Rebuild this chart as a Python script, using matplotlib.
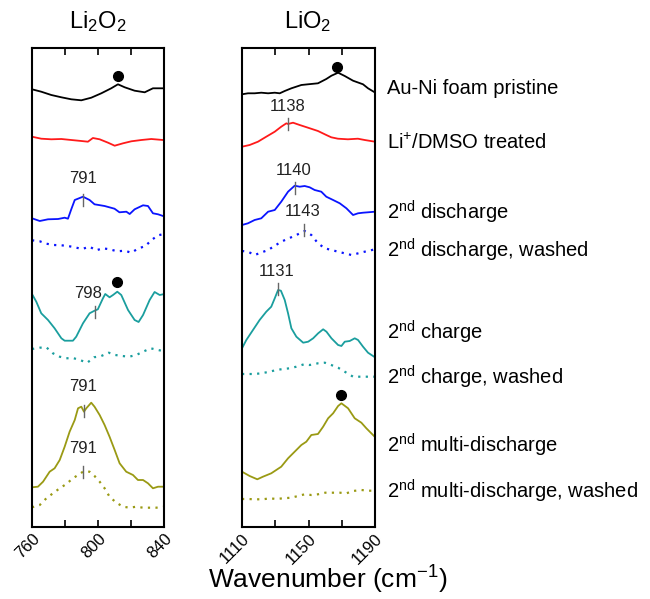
import matplotlib
matplotlib.use("Agg")
import matplotlib.pyplot as plt

plt.rcParams["font.family"] = ["Liberation Sans", "DejaVu Sans"]
plt.rcParams["mathtext.default"] = "regular"

# ── Li2O2 region (760-840 cm-1), offset intensities ─────────────────────
l_black_x = [760, 765.6, 771.7, 777.8, 783.8, 789.9, 795.9, 802, 808, 812.1, 816.2, 822.2, 828.3, 833.3, 839.4]
l_black_y = [437.7, 435.3, 432, 429.7, 427.7, 426.7, 429.3, 433.7, 438.7, 442.7, 439.7, 436.3, 434.7, 438.7, 438.7]

l_red_x = [760, 765.6, 771.7, 777.8, 783.8, 789.9, 793.9, 796.9, 801, 806.1, 810.1, 815.2, 820.2, 826.3, 832.3, 839.4]
l_red_y = [390.3, 388.3, 387.7, 388, 387, 386, 385.3, 389, 387.7, 384.3, 381.3, 383.7, 385.7, 387, 388, 387]

l_blue_x = [760, 764.7, 769.7, 775.8, 779.8, 781.8, 783.8, 785.9, 790.9, 794.9, 797.9, 804, 810, 813,
            817.2, 819.2, 822.2, 827.3, 830.3, 833.3, 836.4, 839.4]
l_blue_y = [308.7, 306, 307.7, 308, 309.3, 308.3, 317.7, 327, 330.3, 327, 322.7, 321, 318.3, 314.7,
            315.3, 313, 317.7, 321.7, 321, 313.7, 312.7, 311]

l_bluew_x = [760, 764.7, 768.7, 773.3, 777.8, 781.8, 785.9, 790.3, 794.9, 798.9, 803, 807, 811.7, 816.2,
             820.2, 824.2, 828.7, 832.7, 836.4, 840]
l_bluew_y = [286.7, 285.7, 283.3, 282, 281.7, 281, 279.7, 278, 280.3, 276.7, 278.7, 277.7, 275.7, 276.3,
             274.3, 278.3, 281, 287.3, 291.7, 293]

l_teal_x = [760, 762.6, 765.6, 769.7, 773.7, 777.8, 779.8, 784.8, 786.8, 790.9, 794.9, 797.9, 799.9, 803,
            804.4, 807, 809.1, 811.7, 814.1, 818.2, 822.2, 824.6, 827.3, 831.3, 834.3, 837.4, 839.4]
l_teal_y = [233, 225.3, 213.7, 207, 198.7, 188.7, 186.3, 186.3, 190.3, 203.7, 213.7, 216.3, 217.7, 228.7,
            233, 229.7, 232, 235.3, 232, 217, 207, 205, 212, 227, 235, 232, 232.7]

l_tealw_x = [760, 764.7, 768.7, 772.7, 776.8, 780.8, 784.8, 788.9, 793.5, 797.6, 802, 806.5, 810.5, 814.7,
             818.8, 823.2, 827.3, 831.9, 836.4, 839.4]
l_tealw_y = [178, 179.3, 179.7, 173.7, 170.3, 168.7, 169, 167, 164.3, 169.7, 171, 174.3, 172, 171,
             170.3, 172, 175.3, 178.7, 177, 176]

l_olive_x = [760, 763.6, 766.7, 770.7, 773.7, 776.8, 779.8, 782.8, 785.9, 787.9, 789.9, 791.5, 792.9, 795.9,
             797.9, 801, 804, 807, 810.1, 813.1, 817.1, 821.2, 824.2, 827.3, 830.3, 833.3, 836.4, 839.4]
l_olive_y = [39.7, 40.3, 45.3, 55.3, 58.7, 67, 80.3, 95.3, 107, 118.7, 120.3, 115.3, 118.7, 124.3,
             120.3, 112, 102, 90.3, 77, 63.7, 55.3, 52, 47, 47, 43.7, 38.7, 40.3, 40.3]

l_olivew_x = [760, 764.7, 768.7, 772.7, 776.8, 780.8, 784.8, 787.9, 790.9, 794.9, 797.9, 801, 804, 807,
              811.1, 815.2, 819.2, 823.2, 827.3, 831.3, 835.3, 839.4]
l_olivew_y = [19.7, 22, 28.7, 33.7, 38.7, 43, 48.7, 52, 55.3, 55.3, 51, 45.3, 38.7, 30.3,
              24.3, 20.3, 19.3, 20.3, 19.3, 19.3, 19.3, 20.3]

# ── LiO2 region (1110-1190 cm-1) ─────────────────────────────────────────
r_black_x = [1110, 1113.6, 1117.6, 1121.6, 1125.7, 1129.7, 1132.7, 1135.7, 1139.7, 1145.7, 1149.7,
             1155.7, 1160.7, 1163.8, 1167.8, 1171.8, 1176.8, 1182.8, 1185.8, 1190]
r_black_y = [432.7, 433.7, 433.7, 434.3, 433.7, 434.3, 433.7, 436, 438.7, 442, 442.7,
             443.7, 448, 451.3, 454.3, 451, 446.3, 442.7, 438.7, 434.5]

r_red_x = [1110, 1114.6, 1119.6, 1124.6, 1129.7, 1133.6, 1136.7, 1137.7, 1140.7, 1144.7, 1149.7,
           1155.7, 1160.7, 1163.7, 1167.7, 1173.7, 1179.7, 1183.8, 1190]
r_red_y = [380.3, 382, 385.3, 390.3, 395.3, 400.3, 403.7, 403, 404.3, 402, 399.3,
           396, 392, 389.7, 388.3, 387.7, 388.3, 387, 385.3]

r_blue_x = [1110, 1113.6, 1117.6, 1121.6, 1125.7, 1129.7, 1133.6, 1137.7, 1141.7, 1144.7, 1147.7, 1150.7,
            1153.7, 1157.7, 1160.7, 1164.8, 1168.8, 1172.8, 1176.8, 1179.8, 1182.8, 1185.8, 1190]
r_blue_y = [302, 303.7, 307, 308.7, 315.3, 317, 325.3, 335.3, 341.3, 340.3, 341, 339.7,
            337, 335.3, 330.3, 327, 323.7, 318.7, 312, 313.7, 314.3, 314.7, 315.3]

r_bluew_x = [1110, 1113.6, 1117.6, 1125.7, 1133.6, 1142.7, 1147.7, 1151.7, 1155.7, 1159.8, 1167.8,
             1175.8, 1183.8, 1190]
r_bluew_y = [276, 275.3, 272, 277, 285.3, 292, 296, 292, 283.7, 278.7, 275.3,
             272, 275.3, 277.7]

r_teal_x = [1110, 1112.6, 1116.6, 1120.6, 1124.6, 1127.6, 1129.7, 1131.7, 1133.4, 1135.7, 1137.7, 1139.7,
            1142.7, 1146.8, 1149.8, 1152.8, 1155.8, 1158.8, 1160.8, 1163.8, 1167.8, 1169.8, 1171.8,
            1174.8, 1177.8, 1179.8, 1182.8, 1185.8, 1190]
r_teal_y = [178.7, 187, 197, 207, 215.3, 220.3, 228.7, 237, 236.3, 227, 213.7, 198.7,
            190.3, 184.3, 185.3, 188.7, 193.7, 197.7, 195.3, 188.7, 182, 181, 185.3,
            186, 188.7, 187, 180.3, 174.3, 169.7]

r_tealw_x = [1110, 1112.6, 1117.6, 1121.6, 1126.7, 1130.6, 1134.7, 1138.7, 1142.7, 1147.3, 1150.7,
             1155.7, 1159.8, 1163.7, 1167.8, 1171.8, 1176.8, 1180.8, 1185.8, 1190]
r_tealw_y = [153, 153, 153, 153.7, 155.3, 157, 158, 158.7, 160.3, 162.7, 162,
             163.7, 164.3, 162, 159.3, 155.3, 150.3, 150.3, 150.3, 150.3]

r_olive_x = [1110, 1114.6, 1119.2, 1122.6, 1127.6, 1133.6, 1137.7, 1142.7, 1145.7, 1148.7, 1151.7,
             1155.7, 1158.8, 1161.8, 1164.8, 1167.8, 1169.8, 1173.8, 1177.8, 1181.8, 1184.8, 1190]
r_olive_y = [55.3, 51, 47.7, 50.3, 53.7, 60.3, 68.7, 77, 82, 85.3, 92,
             93, 100.3, 108.7, 113.7, 121, 123.7, 118.7, 108.7, 104.3, 98.7, 90]

r_olivew_x = [1110, 1113.6, 1117.6, 1122.6, 1126.7, 1130.6, 1134.7, 1139.7, 1143.7, 1147.7, 1151.7,
              1155.7, 1160.1, 1164.7, 1168.8, 1172.8, 1176.8, 1181.8, 1185.8, 1190]
r_olivew_y = [28, 28, 27.7, 27.7, 28.7, 28, 28.7, 29.3, 31, 32.7, 32,
              32.7, 34.3, 34.3, 34.3, 33.7, 36, 37, 36.3, 36.3]

colors = ["#000000", "#ff1a1a", "#0a14ff", "#1a9e9e", "#9a9a14"]

# (x, y, colour index, dotted?)
left_traces = [
    (l_black_x, l_black_y, 0, False), (l_red_x, l_red_y, 1, False),
    (l_blue_x, l_blue_y, 2, False), (l_bluew_x, l_bluew_y, 2, True),
    (l_teal_x, l_teal_y, 3, False), (l_tealw_x, l_tealw_y, 3, True),
    (l_olive_x, l_olive_y, 4, False), (l_olivew_x, l_olivew_y, 4, True),
]
right_traces = [
    (r_black_x, r_black_y, 0, False), (r_red_x, r_red_y, 1, False),
    (r_blue_x, r_blue_y, 2, False), (r_bluew_x, r_bluew_y, 2, True),
    (r_teal_x, r_teal_y, 3, False), (r_tealw_x, r_tealw_y, 3, True),
    (r_olive_x, r_olive_y, 4, False), (r_olivew_x, r_olivew_y, 4, True),
]

# peak markers: tick position, tick centre, label text, label position
left_peaks = [(791, 327, "791", 791, 341), (798, 215, "798", 794, 226),
              (791.5, 116, "791", 791, 133), (791, 55, "791", 791, 71)]
right_peaks = [(1137.7, 403, "1138", 1137.5, 413), (1142, 339, "1140", 1141, 349),
               (1147.5, 297, "1143", 1146.3, 308), (1131.7, 238, "1131", 1130.9, 248)]

# black dots
left_dots_x, left_dots_y = [812, 811.7], [451, 245]
right_dots_x, right_dots_y = [1167.3, 1169.4], [460, 132]

labels = ["Au-Ni foam pristine", "Li$^{+}$/DMSO treated", "2$^{nd}$ discharge",
          "2$^{nd}$ discharge, washed", "2$^{nd}$ charge", "2$^{nd}$ charge, washed",
          "2$^{nd}$ multi-discharge", "2$^{nd}$ multi-discharge, washed"]
label_y = [88, 143, 212, 250, 332, 377, 445, 491]   # pixel rows


fig = plt.figure(figsize=(6.5, 5.99), dpi=100)
W, H = 650, 599
ax1 = fig.add_axes([32 / W, 1 - 527 / H, 132 / W, 479 / H])
ax2 = fig.add_axes([242 / W, 1 - 527 / H, 133 / W, 479 / H])


def draw_panel(ax, traces, peaks, dx, dy, xlim, major):
    for x, y, ci, dotted in traces:
        if dotted:
            ax.plot(x, y, color=colors[ci], lw=1.6, linestyle=(0, (1, 2.4)))
        else:
            ax.plot(x, y, color=colors[ci], lw=1.3)
    for px, py, txt, tx, ty in peaks:
        ax.plot([px, px], [py - 6, py + 6], color="#666666", lw=1.0)
        ax.text(tx, ty, txt, ha="center", va="bottom", fontsize=12, color="#222222")
    ax.plot(dx, dy, "o", color="black", markersize=7)
    ax.set_xlim(*xlim)
    ax.set_ylim(0, 479)
    ax.set_yticks([])
    ax.set_xticks(major)
    ax.set_xticks(range(xlim[0], xlim[1] + 1, 20), minor=True)
    ax.tick_params(axis="x", which="both", direction="in", top=True, length=5, width=1.2)
    ax.tick_params(axis="x", which="major", labelsize=12, pad=3)
    for lab in ax.get_xticklabels():
        lab.set_rotation(45)
        lab.set_ha("right")
        lab.set_va("top")
        lab.set_rotation_mode("anchor")
    for sp in ax.spines.values():
        sp.set_linewidth(1.5)


draw_panel(ax1, left_traces, left_peaks, left_dots_x, left_dots_y, (760, 840), [760, 800, 840])
draw_panel(ax2, right_traces, right_peaks, right_dots_x, right_dots_y, (1110, 1190), [1110, 1150, 1190])

fig.text(98 / W, 1 - 22 / H, "Li$_2$O$_2$", ha="center", va="center", fontsize=17)
fig.text(308 / W, 1 - 22 / H, "LiO$_2$", ha="center", va="center", fontsize=17)

for txt, py in zip(labels, label_y):
    fig.text(387 / W, 1 - py / H, txt, ha="left", va="center", fontsize=14.5)

fig.text(328 / W, 1 - 580 / H, "Wavenumber (cm$^{-1}$)", ha="center", va="center", fontsize=19)

fig.savefig("out.png", dpi=100)
